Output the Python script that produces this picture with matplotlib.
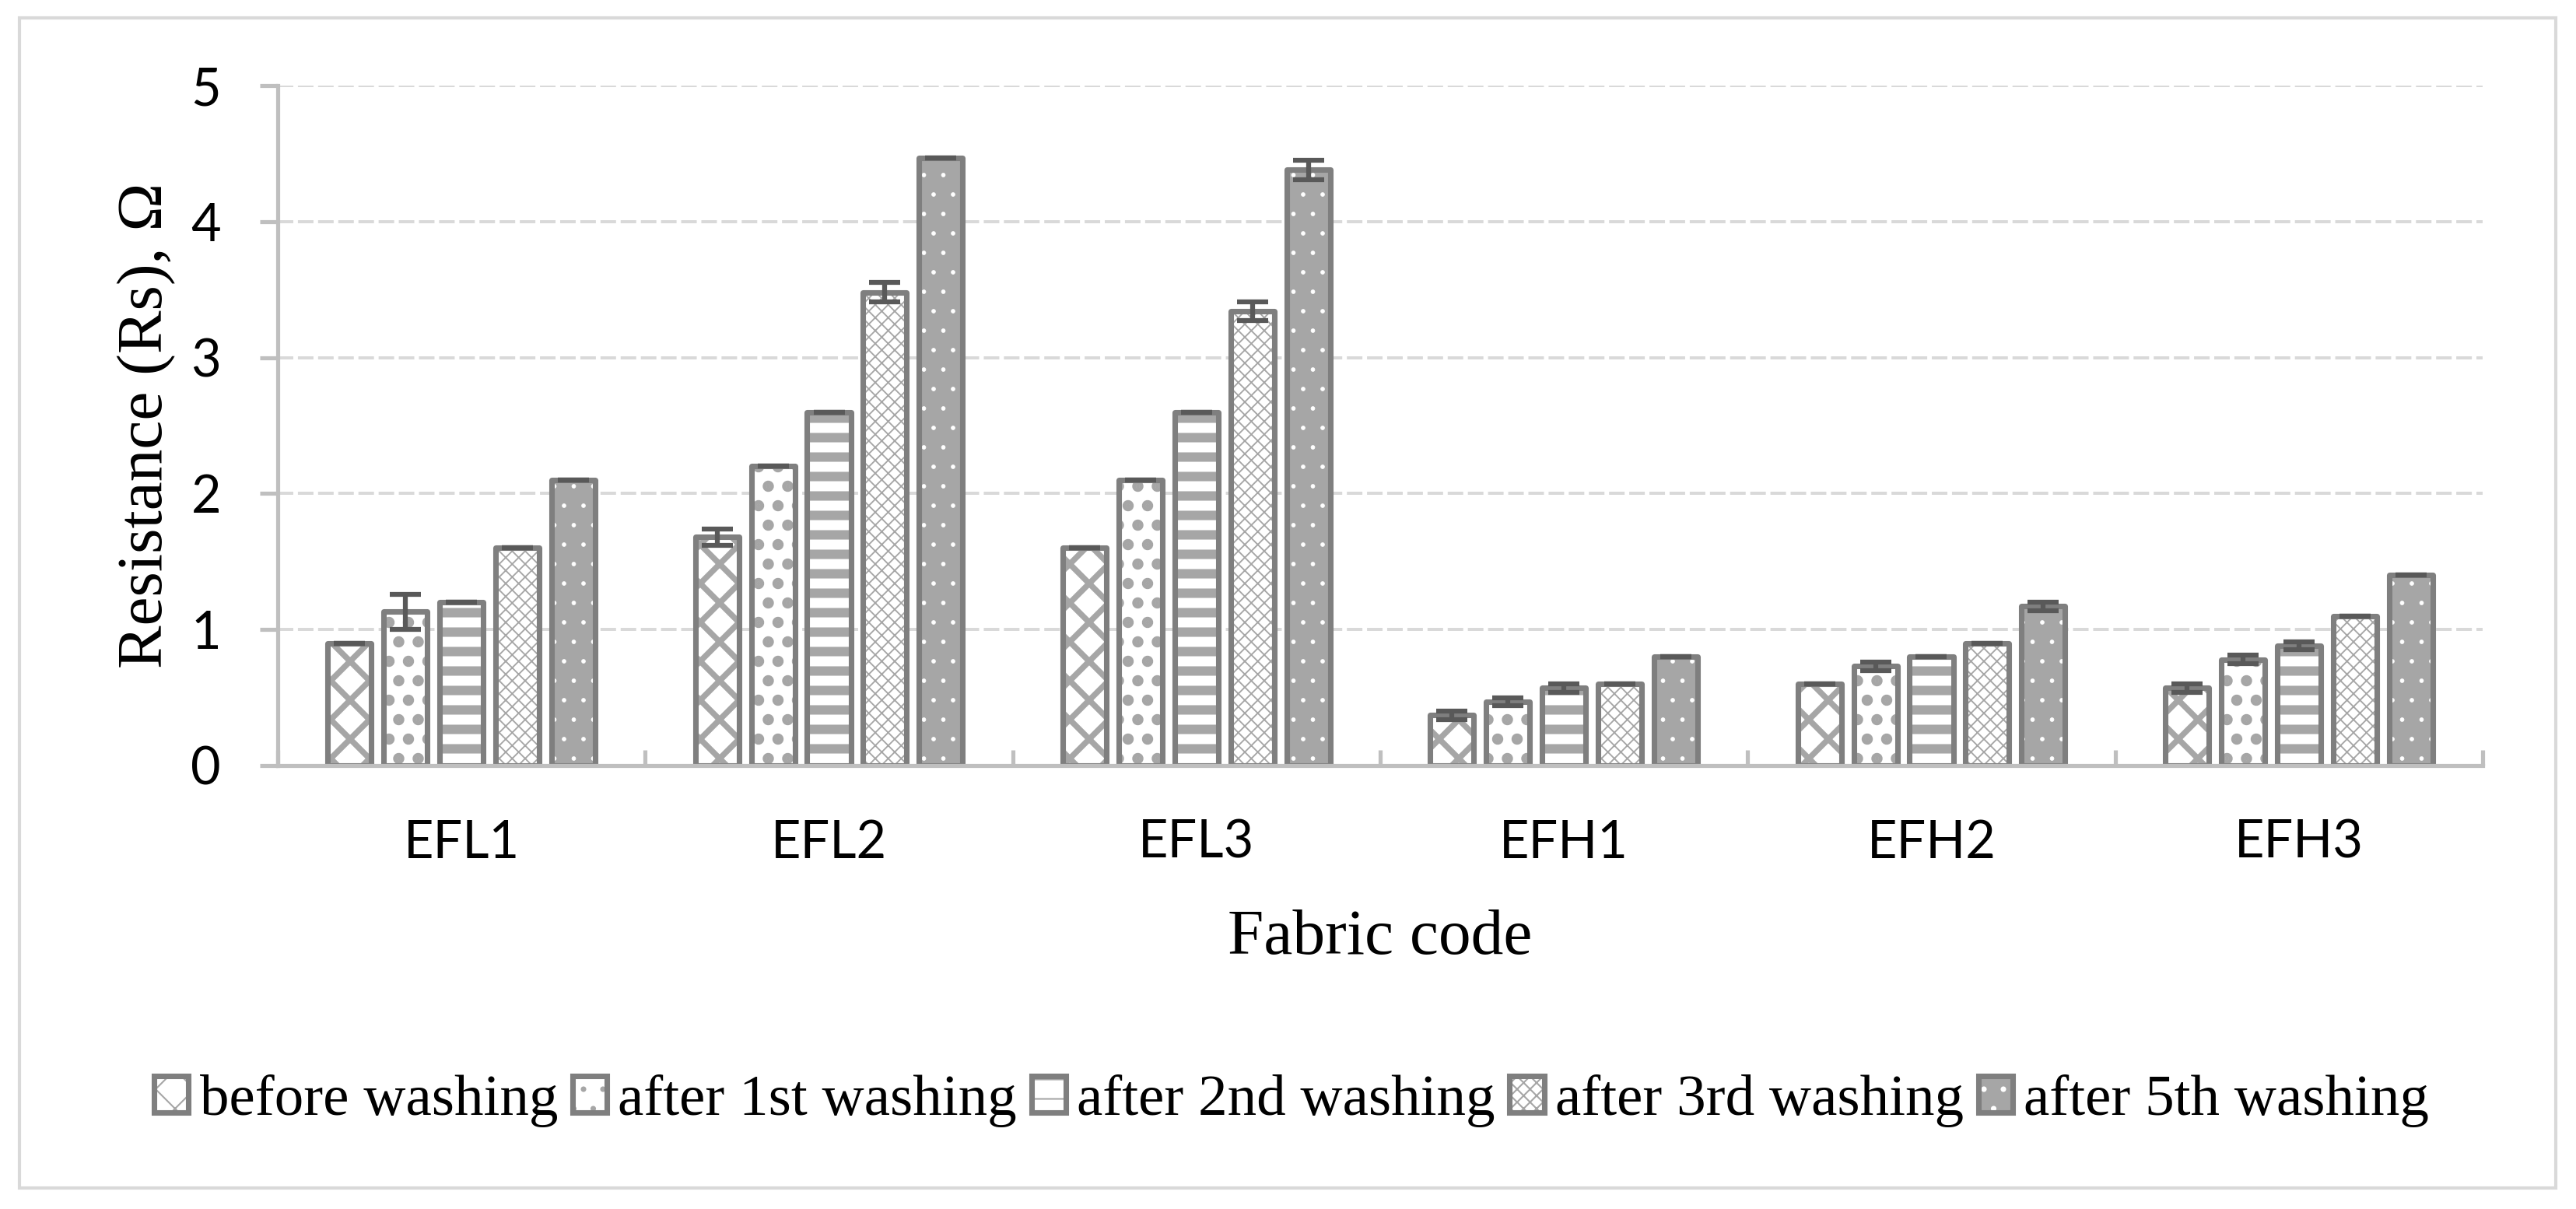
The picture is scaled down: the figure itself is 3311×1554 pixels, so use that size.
import numpy as np
import matplotlib
matplotlib.use('Agg')
import matplotlib.pyplot as plt
from matplotlib.legend_handler import HandlerTuple
from matplotlib.patches import Rectangle

# ---------------- data ----------------
fabrics = ['EFL1', 'EFL2', 'EFL3', 'EFH1', 'EFH2', 'EFH3']
series = ['before washing', 'after 1st washing', 'after 2nd washing',
          'after 3rd washing', 'after 5th washing']
before = [0.90, 1.68, 1.60, 0.37, 0.60, 0.57]
after1 = [1.13, 2.20, 2.10, 0.47, 0.73, 0.78]
after2 = [1.20, 2.60, 2.60, 0.57, 0.80, 0.88]
after3 = [1.60, 3.48, 3.34, 0.60, 0.90, 1.10]
after5 = [2.10, 4.47, 4.38, 0.80, 1.17, 1.40]
err_before = [0.00, 0.06, 0.00, 0.03, 0.00, 0.03]
err_after1 = [0.13, 0.00, 0.00, 0.03, 0.03, 0.03]
err_after2 = [0.00, 0.00, 0.00, 0.03, 0.00, 0.03]
err_after3 = [0.00, 0.07, 0.07, 0.00, 0.00, 0.00]
err_after5 = [0.00, 0.00, 0.07, 0.00, 0.03, 0.00]
yticks = [0, 1, 2, 3, 4, 5]

values = [before, after1, after2, after3, after5]
errors = [err_before, err_after1, err_after2, err_after3, err_after5]

# ---------------- styles ----------------
face = ['white', 'white', 'white', 'white', '#A6A6A6']
hcol = ['#A6A6A6', '#A6A6A6', '#A6A6A6', '#A6A6A6', 'white']
hatches = ['x', '.', '-', 'xxx', '.']
hlw = [3.6, 4.5, 5.8, 0.9, 0.3]
EDGE = '#7F7F7F'
AXC = '#BFBFBF'

DPI = 150
W, H = 3312, 1554
fig = plt.figure(figsize=(W / DPI, H / DPI), dpi=DPI)
L, R, T, B = 357, 3191, 110, 984
ax = fig.add_axes([L / W, 1 - B / H, (R - L) / W, (B - T) / H])

x = np.arange(len(fabrics))
pitch = 0.1524
bw = 0.1186

handles = []
for i, (vals, errs) in enumerate(zip(values, errors)):
    pos = x + (i - 2) * pitch
    with plt.rc_context({'hatch.linewidth': hlw[i]}):
        fill = ax.bar(pos, vals, bw, color=face[i], edgecolor=hcol[i],
                      linewidth=0, hatch=hatches[i], zorder=2)
    for p in fill:
        if hasattr(p, 'set_hatch_linewidth'):
            p.set_hatch_linewidth(hlw[i])
    edge = ax.bar(pos, vals, bw, facecolor='none', edgecolor=EDGE,
                  linewidth=3.4, zorder=3)
    for p in edge:
        p.set_joinstyle('round')
    ax.errorbar(pos, vals, yerr=errs, fmt='none', ecolor='#595959',
                elinewidth=3, capsize=9.4, capthick=3, zorder=4)
    handles.append((fill, edge))

ax.set_xlim(-0.5, 5.5)
ax.set_ylim(0, 5)
ax.set_yticks(yticks)
ax.set_xticks(x)
ax.set_xticklabels(fabrics)
ax.set_xticks(np.arange(-0.5, 6, 1), minor=True)
ax.tick_params(axis='x', which='major', length=0, pad=33, labelsize=32)
ax.tick_params(axis='x', which='minor', direction='in', length=9.6,
               width=2.5, color=AXC)
ax.tick_params(axis='y', length=11, width=2.5, color=AXC, pad=24, labelsize=32)
for lab in ax.get_xticklabels() + ax.get_yticklabels():
    lab.set_fontfamily('Lato')
for s in ['top', 'right']:
    ax.spines[s].set_visible(False)
for s in ['left', 'bottom']:
    ax.spines[s].set_color(AXC)
    ax.spines[s].set_linewidth(2.5)
    ax.spines[s].set_zorder(5)
ax.yaxis.grid(True, color='#D9D9D9', linewidth=1.9, linestyle=(0, (5.05, 1.5)))
ax.set_axisbelow(True)

ax.set_ylabel('Resistance (Rs), Ω', fontfamily='Liberation Serif', fontsize=40)
ax.yaxis.set_label_coords((226 - L) / (R - L), 0.5)
ax.set_xlabel('Fabric code', fontfamily='Liberation Serif', fontsize=40)
ax.xaxis.set_label_coords(0.5, -(1226 - B) / (B - T))
ax.xaxis.label.set_va('baseline')

fig.legend(handles, series, loc='center',
           bbox_to_anchor=(1660 / W, 1 - 1415 / H), ncol=5, frameon=False,
           prop={'family': 'Liberation Serif', 'size': 36},
           handlelength=0.59, handleheight=0.59, handletextpad=0.19,
           columnspacing=0.25, borderaxespad=0,
           handler_map={tuple: HandlerTuple(ndivide=1)})

fig.patches.append(Rectangle((25 / W, 1 - 1527 / H), (3285 - 25) / W,
                             (1527 - 23) / H, transform=fig.transFigure,
                             fill=False, edgecolor='#D9D9D9', linewidth=2))

fig.savefig('out.png', dpi=DPI, facecolor='white')
